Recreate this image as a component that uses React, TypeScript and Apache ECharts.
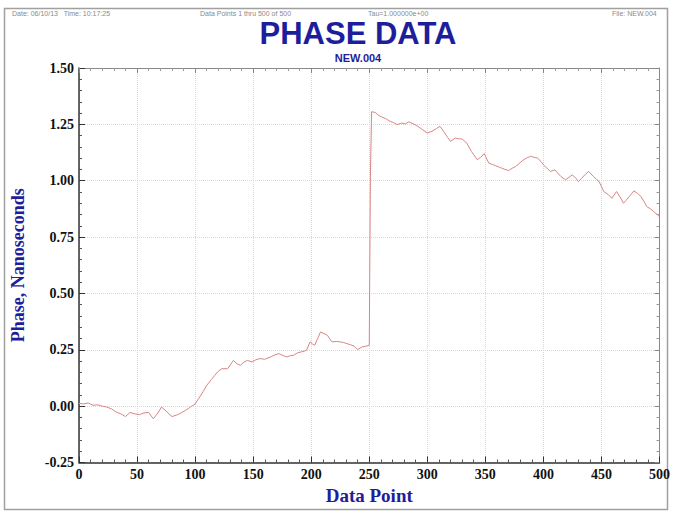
import React, { useEffect, useRef } from "react";
import * as echarts from "echarts";

const pointX = [
  0, 4, 8, 12, 16, 20, 24, 28, 32, 36, 40, 44, 48, 52, 56, 60, 64, 68, 71, 75,
  80, 84, 88, 92, 96, 100, 103, 107, 110, 114, 117, 120, 123, 128, 133, 136, 139, 142, 145, 149,
  152, 156, 160, 165, 168, 172, 176, 179, 182, 185, 188, 191, 194, 196, 199, 201, 203, 206, 208, 211,
  214, 216, 218, 222, 225, 228, 231, 234, 237, 240, 244, 247, 250, 251, 252, 255, 258, 261, 264, 268,
  271, 274, 278, 281, 284, 288, 292, 296, 300, 304, 308, 311, 314, 317, 320, 324, 327, 330, 334, 338,
  343, 346, 349, 353, 356, 359, 362, 364, 367, 370, 373, 376, 380, 383, 386, 389, 392, 395, 398, 400,
  403, 406, 410, 413, 415, 419, 422, 425, 428, 430, 433, 436, 439, 443, 446, 448, 452, 456, 459, 463,
  466, 469, 471, 474, 478, 481, 484, 487, 489, 492, 495, 498, 500,
];

const phase = [
  0.012, 0.01, 0.014, 0.004, 0.006, 0.0, -0.004, -0.012, -0.026, -0.034, -0.046, -0.028, -0.034, -0.038, -0.03, -0.028, -0.056, -0.03, -0.004, -0.022,
  -0.046, -0.04, -0.03, -0.018, -0.004, 0.01, 0.033, 0.065, 0.092, 0.118, 0.137, 0.155, 0.166, 0.166, 0.203, 0.188, 0.181, 0.195, 0.203, 0.196,
  0.205, 0.211, 0.208, 0.218, 0.226, 0.233, 0.224, 0.218, 0.224, 0.226, 0.236, 0.24, 0.244, 0.248, 0.285, 0.276, 0.27, 0.305, 0.329, 0.322,
  0.314, 0.298, 0.285, 0.287, 0.285, 0.282, 0.277, 0.272, 0.266, 0.251, 0.263, 0.266, 0.27, 1.02, 1.306, 1.303, 1.29, 1.282, 1.276, 1.263,
  1.258, 1.249, 1.256, 1.252, 1.261, 1.252, 1.241, 1.226, 1.212, 1.219, 1.232, 1.241, 1.219, 1.196, 1.174, 1.189, 1.186, 1.185, 1.167, 1.13,
  1.093, 1.104, 1.12, 1.078, 1.072, 1.066, 1.06, 1.056, 1.05, 1.045, 1.055, 1.063, 1.08, 1.093, 1.102, 1.108, 1.104, 1.1, 1.085, 1.071,
  1.056, 1.041, 1.048, 1.03, 1.019, 1.004, 1.015, 1.026, 1.01, 0.996, 1.011, 1.028, 1.041, 1.019, 1.005, 0.996, 0.952, 0.938, 0.922, 0.952,
  0.928, 0.9, 0.912, 0.93, 0.955, 0.944, 0.93, 0.905, 0.885, 0.876, 0.863, 0.85, 0.84,
];

const headerTexts = [
  { text: "Date: 06/10/13   Time: 10:17:25", x: 12 },
  { text: "Data Points 1 thru 500 of 500", x: 200 },
  { text: "Tau=1.000000e+00", x: 368 },
  { text: "File: NEW.004", x: 612 },
];

const title = "PHASE DATA";
const subtitle = "NEW.004";
const xName = "Data Point";
const yName = "Phase, Nanoseconds";

const blue = "#1e1e9c";
const serif = "'Liberation Serif', 'DejaVu Serif', serif";
const sans = "'Liberation Sans', Arial, sans-serif";

export default function App() {
  const ref = useRef<HTMLDivElement>(null);
  useEffect(() => {
    if (!ref.current) return;
    const chart = echarts.init(ref.current, null, { renderer: "svg" });
    const data = pointX.map((x, i) => [x, phase[i]]);
    const tickLabel = {
      fontFamily: serif,
      fontWeight: "bold",
      fontSize: 14,
      color: "#111",
    };
    chart.setOption({
      animation: false,
      backgroundColor: "#fff",
      grid: { left: 79, right: 13, top: 68, bottom: 53.5, containLabel: false },
      graphic: [
        {
          type: "rect",
          shape: { x: 4.5, y: 8.5, width: 663, height: 501 },
          style: { fill: "none", stroke: "#a0a0a0", lineWidth: 1.5 },
          silent: true,
        },
        ...headerTexts.map((h) => ({
          type: "text",
          x: h.x,
          y: 10,
          style: { text: h.text, fill: "#8a8a8a", fontSize: 7, fontFamily: sans },
          silent: true,
        })),
        {
          type: "text",
          x: 358,
          y: 33,
          style: {
            text: title,
            fill: blue,
            fontSize: 31,
            fontFamily: sans,
            fontWeight: "bold",
            align: "center",
            verticalAlign: "middle",
          },
        },
        {
          type: "text",
          x: 358,
          y: 57.5,
          style: {
            text: subtitle,
            fill: blue,
            fontSize: 11,
            fontFamily: sans,
            fontWeight: "bold",
            align: "center",
            verticalAlign: "middle",
          },
        },
      ],
      xAxis: [
        {
          type: "value",
          min: 0,
          max: 500,
          interval: 50,
          name: xName,
          nameLocation: "middle",
          nameGap: 22,
          nameTextStyle: { fontFamily: serif, fontWeight: "bold", fontSize: 19, color: blue },
          axisLine: { show: true, onZero: false, lineStyle: { color: "#333", width: 1.5 } },
          axisTick: { show: true, inside: true, length: 6, lineStyle: { color: "#333" } },
          minorTick: { show: true, splitNumber: 5, length: 3, lineStyle: { color: "#555" } },
          axisLabel: { ...tickLabel, margin: 5 },
          splitLine: { show: true, lineStyle: { color: "#d8d8d8", type: "dotted", width: 1 } },
        },
        {
          type: "value",
          position: "top",
          min: 0,
          max: 500,
          interval: 50,
          axisLine: { show: true, onZero: false, lineStyle: { color: "#888", width: 1 } },
          axisTick: { show: true, inside: true, length: 5, lineStyle: { color: "#888" } },
          minorTick: { show: true, splitNumber: 5, length: 3, lineStyle: { color: "#999" } },
          axisLabel: { show: false },
          splitLine: { show: false },
        },
      ],
      yAxis: [
        {
          type: "value",
          min: -0.25,
          max: 1.5,
          interval: 0.25,
          name: yName,
          nameLocation: "middle",
          nameGap: 52,
          nameTextStyle: { fontFamily: serif, fontWeight: "bold", fontSize: 18, color: blue },
          axisLine: { show: true, onZero: false, lineStyle: { color: "#333", width: 1.5 } },
          axisTick: { show: true, inside: true, length: 6, lineStyle: { color: "#333" } },
          minorTick: { show: true, splitNumber: 5, length: 3, lineStyle: { color: "#555" } },
          axisLabel: { ...tickLabel, margin: 5, formatter: (v: number) => v.toFixed(2) },
          splitLine: { show: true, lineStyle: { color: "#d8d8d8", type: "dotted", width: 1 } },
        },
        {
          type: "value",
          position: "right",
          min: -0.25,
          max: 1.5,
          interval: 0.25,
          axisLine: { show: true, onZero: false, lineStyle: { color: "#888", width: 1 } },
          axisTick: { show: true, inside: true, length: 5, lineStyle: { color: "#888" } },
          minorTick: { show: true, splitNumber: 5, length: 3, lineStyle: { color: "#999" } },
          axisLabel: { show: false },
          splitLine: { show: false },
        },
      ],
      series: [
        {
          type: "line",
          data,
          showSymbol: false,
          symbol: "none",
          lineStyle: { color: "#d98585", width: 1 },
          silent: true,
        },
      ],
    });
    return () => chart.dispose();
  }, []);
  return <div ref={ref} style={{ width: 673, height: 516, position: "absolute", left: 0, top: 0 }} />;
}
